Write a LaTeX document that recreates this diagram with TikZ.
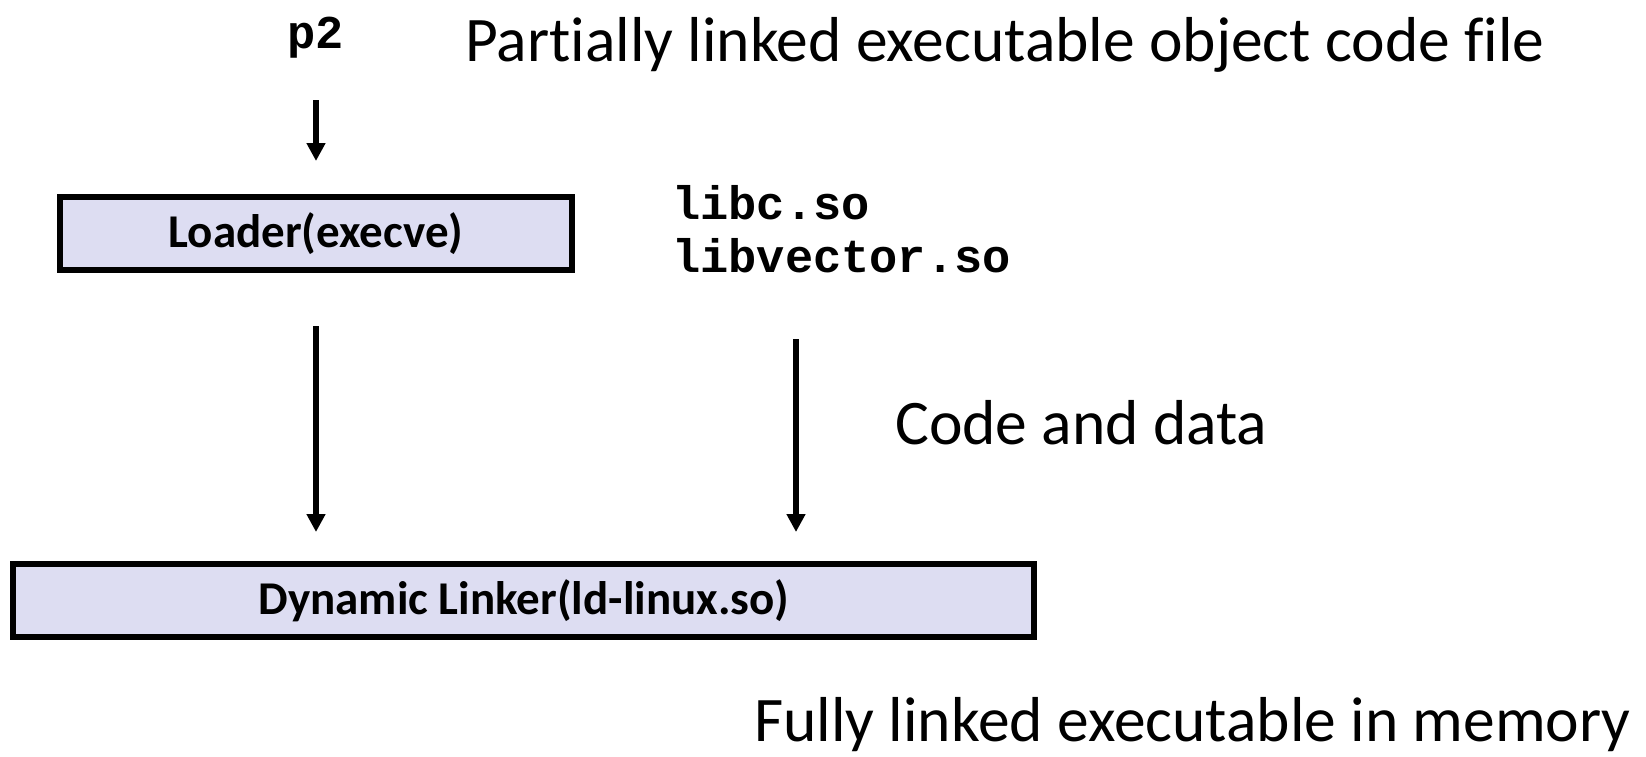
\documentclass[tikz,border=0pt]{standalone}
\usepackage{fontspec}
\setmainfont{Carlito}[Ligatures=NoCommon]
\newfontfamily\codefont{Liberation Mono}
\usetikzlibrary{arrows.meta,calc}
\definecolor{boxfill}{RGB}{221,221,242}
\tikzset{
  stagebox/.style={draw=black, line width=6pt, fill=boxfill, inner sep=0pt,
    minimum height=73pt, font=\fontsize{47}{56}\selectfont\bfseries},
  caption/.style={inner sep=0pt, font=\fontsize{63.5}{76}\selectfont, anchor=base west},
  codetext/.style={inner sep=0pt, font=\codefont\bfseries\fontsize{47}{53}\selectfont},
  flow/.style={line width=5.5pt, -{Triangle[width=18pt,length=18pt]}}
}
\begin{document}
\begin{tikzpicture}[x=1pt,y=-1pt]
  \useasboundingbox (0,0) rectangle (1646,756);

  % input file and its description
  \node[codetext, anchor=base] (p2) at (316,48) {p2};
  \node[caption] (partial) at (465,61) {Partially linked executable object code file};

  % loader stage
  \node[stagebox, minimum width=512pt] (loader) at (316,233.5) {Loader(execve)};

  % shared libraries (base anchor sits on the last line)
  \node[codetext, anchor=base west, align=left] (libs) at (672,272)
    {libc.so\\libvector.so};

  % dynamic linker stage
  \node[stagebox, minimum width=1021pt] (dyn) at (523.5,600.5) {Dynamic Linker(ld-linux.so)};

  \node[caption] (codedata) at (895,444) {Code and data};
  \node[caption] (full) at (754,741) {Fully linked executable in memory};

  % connectors
  \coordinate (libsrc) at (796,339);
  \draw[flow] ($(p2.base)+(0,52)$) -- ($(loader.north)+(0,-33)$);
  \draw[flow] ($(loader.south)+(0,53)$) -- (loader.south |- 0,532);
  \draw[flow] (libsrc) -- (libsrc |- 0,532);
\end{tikzpicture}
\end{document}
